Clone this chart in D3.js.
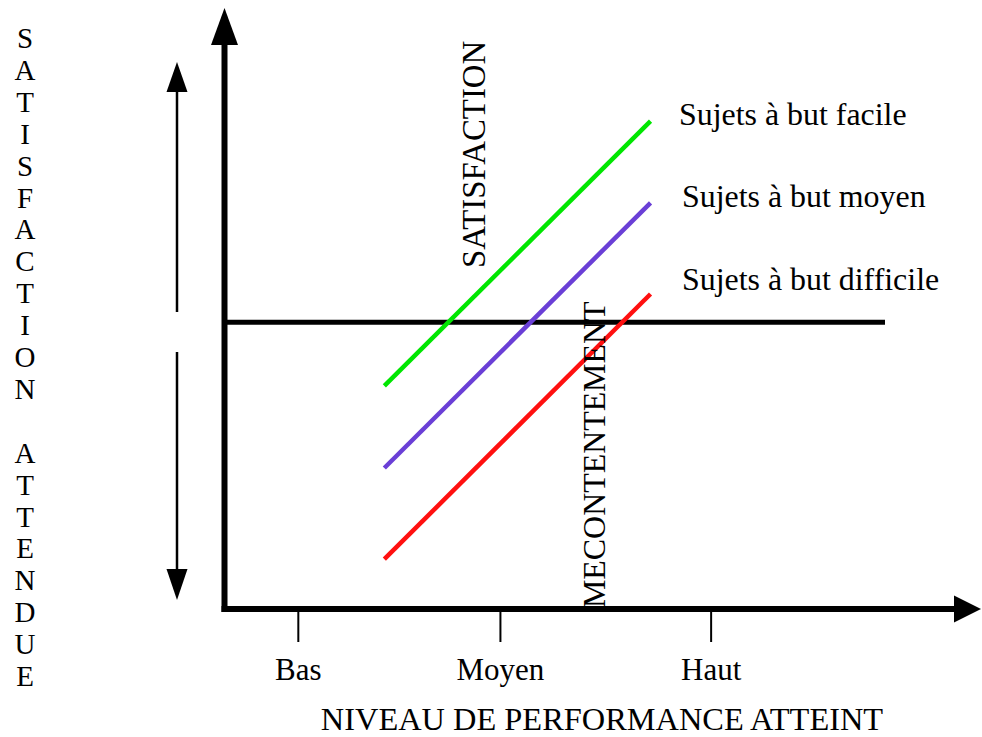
<!DOCTYPE html>
<html>
<head>
<meta charset="utf-8">
<script src="https://cdn.jsdelivr.net/npm/d3@7"></script>
<style>
    html, body { margin: 0; padding: 0; background: #fff; }
    text { font-family: "Liberation Serif", "Times New Roman", serif; fill: #000; }
</style>
</head>
<body>
<div id="chart"></div>
<script>
// performance levels (x, 0-100) and satisfaction (y, 0-100)
const tickLabels = ["Bas", "Moyen", "Haut"];
const tickValues = [11.1, 41.7, 73.6];
const seriesNames = ["Sujets à but facile", "Sujets à but moyen", "Sujets à but difficile"];
const seriesX = [[24.2, 64.5], [24.2, 64.5], [24.2, 64.5]];
const seriesY = [[37.2, 81.3], [23.5, 67.7], [8.3, 52.5]];
const seriesColors = ["#00e600", "#6a3fd6", "#ff1010"];
const expectedLevel = 47.8;
const yTitle = "SATISFACTION ATTENDUE";
const xTitle = "NIVEAU DE PERFORMANCE ATTEINT";

const W = 982, H = 737;

const svg = d3.select("#chart").append("svg")
    .attr("width", W)
    .attr("height", H);

const x = d3.scaleLinear().domain([0, 100]).range([224.5, 885]);
const y = d3.scaleLinear().domain([0, 100]).range([609, 9]);

const line = d3.line();

// axes with arrowheads
svg.append("path")
    .attr("d", line([[x(0), y(0) + 3], [x(0), y(100) + 36]]))
    .style("stroke", "black").style("stroke-width", 6).style("fill", "none");
svg.append("path")
    .attr("d", line([[x(0), y(100) - 1], [x(0) - 13.5, y(100) + 36], [x(0) + 13.5, y(100) + 36]]) + "Z")
    .style("fill", "black");

svg.append("path")
    .attr("d", line([[x(0) - 3, y(0)], [954, y(0)]]))
    .style("stroke", "black").style("stroke-width", 6).style("fill", "none");
svg.append("path")
    .attr("d", line([[981, y(0)], [954, y(0) - 13.5], [954, y(0) + 13.5]]) + "Z")
    .style("fill", "black");

// ticks + labels
const xAxis = svg.append("g")
    .attr("transform", "translate(0," + y(0) + ")")
    .call(d3.axisBottom(x)
        .tickValues(tickValues)
        .tickFormat((d, i) => tickLabels[i])
        .tickSize(33)
        .tickPadding(0));
xAxis.select(".domain").remove();
xAxis.selectAll("line").style("stroke", "black").style("stroke-width", 2);
xAxis.selectAll("text")
    .attr("y", 71).attr("dy", 0)
    .style("font-size", "31px")
    .style("font-family", "Liberation Serif, serif")
    .style("fill", "black");

svg.append("text")
    .attr("x", 602).attr("y", 730)
    .attr("text-anchor", "middle")
    .style("font-size", "32.4px")
    .text(xTitle);

// expected satisfaction line
svg.append("path")
    .attr("d", line([[x(0), y(expectedLevel)], [x(100), y(expectedLevel)]]))
    .style("stroke", "black").style("stroke-width", 5).style("fill", "none");

// left double arrow
const ax = 177;
svg.append("path")
    .attr("d", line([[ax, 92], [ax, 312]]))
    .style("stroke", "black").style("stroke-width", 2.5);
svg.append("path")
    .attr("d", line([[ax, 62], [ax - 10.5, 92], [ax + 10.5, 92]]) + "Z")
    .style("fill", "black");
svg.append("path")
    .attr("d", line([[ax, 352], [ax, 569]]))
    .style("stroke", "black").style("stroke-width", 2.5);
svg.append("path")
    .attr("d", line([[ax, 600], [ax - 10.5, 569], [ax + 10.5, 569]]) + "Z")
    .style("fill", "black");

// vertical title letters
svg.append("g").selectAll("text")
    .data(yTitle.split(""))
    .join("text")
    .attr("x", 25)
    .attr("y", (d, i) => 48 + i * 31.9)
    .attr("text-anchor", "middle")
    .style("font-size", "29px")
    .text(d => d);

// series lines
seriesNames.forEach((name, i) => {
    const pts = seriesX[i].map((v, j) => [x(v), y(seriesY[i][j])]);
    svg.append("path")
        .attr("d", line(pts))
        .style("stroke", seriesColors[i])
        .style("stroke-width", 4.5)
        .style("fill", "none");
});

// series labels
const labelPos = [[679, 125], [682, 207], [682, 290]];
svg.append("g").selectAll("text")
    .data(seriesNames)
    .join("text")
    .attr("x", (d, i) => labelPos[i][0])
    .attr("y", (d, i) => labelPos[i][1])
    .style("font-size", "31.9px")
    .text(d => d);

// rotated zone labels
svg.append("text")
    .attr("transform", "translate(485,268) rotate(-90)")
    .style("font-size", "32.8px")
    .text("SATISFACTION");
svg.append("text")
    .attr("transform", "translate(605,608) rotate(-90)")
    .style("font-size", "31.9px")
    .text("MECONTENTEMENT");
</script>
</body>
</html>
